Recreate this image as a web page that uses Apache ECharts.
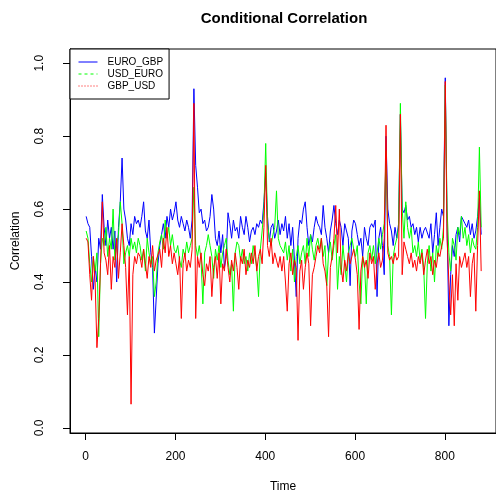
<!DOCTYPE html>
<html>
<head>
<meta charset="utf-8">
<script src="https://cdn.jsdelivr.net/npm/echarts@6/dist/echarts.min.js"></script>
<style>
  html, body { margin: 0; padding: 0; background: #fff; }
  #main { width: 496px; height: 498px; }
</style>
</head>
<body>
<div id="main"></div>
<script>
// one reading every 4 time steps, starting at t = 1
const step = 4;

const euroGbp = [
  0.58, 0.56, 0.55, 0.47, 0.38, 0.44, 0.40, 0.52, 0.49, 0.64,
  0.55, 0.50, 0.57, 0.52, 0.55, 0.49, 0.54, 0.40, 0.55, 0.62,
  0.74, 0.60, 0.57, 0.52, 0.50, 0.56, 0.53, 0.58, 0.56, 0.57,
  0.55, 0.58, 0.62, 0.54, 0.52, 0.57, 0.48, 0.44, 0.26, 0.26,
  0.45, 0.50, 0.53, 0.56, 0.52, 0.58, 0.55, 0.60, 0.57, 0.59,
  0.62, 0.57, 0.55, 0.58, 0.56, 0.54, 0.57, 0.55, 0.52, 0.57,
  0.93, 0.72, 0.66, 0.59, 0.60, 0.56, 0.57, 0.54, 0.55, 0.58,
  0.64, 0.60, 0.52, 0.50, 0.54, 0.48, 0.53, 0.44, 0.47, 0.59,
  0.56, 0.52, 0.57, 0.54, 0.55, 0.52, 0.58, 0.55, 0.53, 0.58,
  0.55, 0.51, 0.54, 0.55, 0.53, 0.56, 0.55, 0.57, 0.56, 0.62,
  0.70, 0.58, 0.51, 0.55, 0.56, 0.52, 0.54, 0.57, 0.53, 0.56,
  0.54, 0.58, 0.52, 0.56, 0.50, 0.55, 0.46, 0.36, 0.52, 0.57,
  0.56, 0.60, 0.62, 0.55, 0.50, 0.53, 0.51, 0.55, 0.58, 0.56,
  0.55, 0.53, 0.61, 0.55, 0.52, 0.48, 0.54, 0.57, 0.61, 0.56,
  0.53, 0.57, 0.55, 0.50, 0.56, 0.54, 0.52, 0.39, 0.54, 0.57,
  0.56, 0.53, 0.50, 0.52, 0.47, 0.55, 0.52, 0.50, 0.55, 0.56,
  0.55, 0.57, 0.36, 0.52, 0.55, 0.50, 0.42, 0.80, 0.60, 0.56,
  0.54, 0.50, 0.55, 0.52, 0.56, 0.86, 0.60, 0.59, 0.61, 0.57,
  0.58, 0.55, 0.56, 0.53, 0.55, 0.51, 0.55, 0.52, 0.54, 0.55,
  0.55, 0.52, 0.56, 0.48, 0.53, 0.59, 0.50, 0.55, 0.60, 0.58,
  0.96, 0.56, 0.28, 0.42, 0.50, 0.47, 0.53, 0.55, 0.51, 0.58,
  0.58, 0.56, 0.55, 0.57, 0.53, 0.56, 0.52, 0.54, 0.58, 0.63, 0.53
];

const usdEuro = [
  0.54, 0.52, 0.45, 0.40, 0.47, 0.43, 0.48, 0.25, 0.45, 0.52,
  0.50, 0.55, 0.47, 0.52, 0.49, 0.60, 0.46, 0.50, 0.53, 0.62,
  0.56, 0.45, 0.48, 0.50, 0.47, 0.52, 0.49, 0.51, 0.48, 0.52,
  0.50, 0.46, 0.49, 0.43, 0.52, 0.48, 0.45, 0.47, 0.36, 0.40,
  0.48, 0.51, 0.53, 0.49, 0.57, 0.52, 0.55, 0.50, 0.53, 0.49,
  0.48, 0.50, 0.46, 0.44, 0.49, 0.47, 0.51, 0.48, 0.50, 0.52,
  0.66, 0.50, 0.47, 0.50, 0.46, 0.34, 0.48, 0.50, 0.53, 0.50,
  0.47, 0.41, 0.49, 0.46, 0.50, 0.44, 0.48, 0.50, 0.52, 0.46,
  0.42, 0.45, 0.32, 0.48, 0.51, 0.50, 0.46, 0.49, 0.45, 0.47,
  0.43, 0.48, 0.45, 0.50, 0.47, 0.44, 0.36, 0.49, 0.54, 0.60,
  0.78, 0.56, 0.52, 0.50, 0.53, 0.55, 0.65, 0.52, 0.50, 0.49,
  0.48, 0.51, 0.46, 0.50, 0.43, 0.49, 0.40, 0.47, 0.50, 0.45,
  0.48, 0.50, 0.45, 0.52, 0.47, 0.53, 0.49, 0.46, 0.50, 0.52,
  0.49, 0.52, 0.47, 0.50, 0.39, 0.48, 0.51, 0.46, 0.50, 0.53,
  0.38, 0.47, 0.42, 0.50, 0.45, 0.40, 0.48, 0.50, 0.52, 0.49,
  0.47, 0.50, 0.40, 0.34, 0.47, 0.45, 0.34, 0.48, 0.50, 0.46,
  0.50, 0.45, 0.48, 0.52, 0.49, 0.53, 0.56, 0.76, 0.50, 0.47,
  0.31, 0.47, 0.50, 0.52, 0.55, 0.89, 0.60, 0.52, 0.62, 0.55,
  0.52, 0.55, 0.48, 0.50, 0.47, 0.51, 0.46, 0.49, 0.44, 0.30,
  0.45, 0.50, 0.43, 0.48, 0.40, 0.50, 0.47, 0.52, 0.49, 0.55,
  0.94, 0.60, 0.48, 0.43, 0.52, 0.50, 0.46, 0.55, 0.53, 0.58,
  0.52, 0.55, 0.50, 0.53, 0.48, 0.52, 0.50, 0.49, 0.55, 0.77, 0.55
];

const gbpUsd = [
  0.52, 0.51, 0.42, 0.35, 0.47, 0.40, 0.22, 0.30, 0.45, 0.62,
  0.48, 0.46, 0.42, 0.50, 0.38, 0.47, 0.44, 0.52, 0.41, 0.48,
  0.56, 0.50, 0.44, 0.31, 0.47, 0.065, 0.42, 0.47, 0.45, 0.48,
  0.47, 0.44, 0.49, 0.45, 0.41, 0.47, 0.44, 0.50, 0.43, 0.46,
  0.46, 0.49, 0.44, 0.52, 0.48, 0.55, 0.47, 0.50, 0.45, 0.48,
  0.45, 0.42, 0.47, 0.30, 0.45, 0.48, 0.43, 0.46, 0.44, 0.49,
  0.89, 0.30, 0.47, 0.44, 0.48, 0.42, 0.39, 0.45, 0.43, 0.47,
  0.36, 0.44, 0.47, 0.41, 0.48, 0.34, 0.45, 0.43, 0.49, 0.44,
  0.40, 0.46, 0.43, 0.48, 0.44, 0.38, 0.47, 0.45, 0.49, 0.42,
  0.46, 0.44, 0.48, 0.45, 0.50, 0.43, 0.47, 0.49, 0.45, 0.55,
  0.72, 0.50, 0.47, 0.52, 0.45, 0.48, 0.46, 0.44, 0.47, 0.43,
  0.47, 0.40, 0.32, 0.45, 0.48, 0.42, 0.46, 0.44, 0.24, 0.43,
  0.46, 0.38, 0.44, 0.48, 0.45, 0.28, 0.42, 0.44, 0.47, 0.50,
  0.48, 0.52, 0.45, 0.43, 0.39, 0.25, 0.44, 0.47, 0.52, 0.61,
  0.48, 0.60, 0.44, 0.40, 0.46, 0.43, 0.48, 0.45, 0.47, 0.49,
  0.46, 0.42, 0.27, 0.43, 0.47, 0.44, 0.46, 0.41, 0.48, 0.45,
  0.47, 0.38, 0.45, 0.48, 0.44, 0.46, 0.52, 0.83, 0.48, 0.46,
  0.47, 0.45, 0.48, 0.46, 0.47, 0.86, 0.42, 0.51, 0.49, 0.47,
  0.45, 0.48, 0.44, 0.46, 0.43, 0.47, 0.45, 0.48, 0.42, 0.46,
  0.49, 0.45, 0.47, 0.42, 0.46, 0.44, 0.48, 0.47, 0.50, 0.52,
  0.95, 0.52, 0.40, 0.31, 0.42, 0.28, 0.45, 0.35, 0.47, 0.44,
  0.46, 0.48, 0.44, 0.47, 0.36, 0.45, 0.48, 0.32, 0.50, 0.65, 0.43
];

const xTicks = [0, 200, 400, 600, 800];
const yTicks = [0, 0.2, 0.4, 0.6, 0.8, 1.0];

const font = "'Liberation Sans', Arial, sans-serif";

// pair each value with its time index
const toPoints = (vals) => vals.map((v, i) => [1 + i * step, v]);

const chart = echarts.init(document.getElementById("main"));

// legend keys: plain lines, no marker
const legendKey = (color, type) => ({
  itemStyle: { opacity: 0 },
  lineStyle: { color: color, width: 1, type: type },
});

const option = {
  animation: false,
  backgroundColor: "#fff",
  textStyle: { fontFamily: font },
  title: {
    text: "Conditional Correlation",
    left: 284,
    top: 11,
    padding: 0,
    textAlign: "center",
    textStyle: { fontFamily: font, fontSize: 15, fontWeight: "bold", color: "#000" },
  },
  legend: {
    orient: "vertical",
    left: 70,
    top: 49,
    padding: [8, 6, 8, 8],
    itemGap: 2,
    itemWidth: 19,
    itemHeight: 10,
    borderColor: "#000",
    borderWidth: 1,
    backgroundColor: "#fff",
    textStyle: { fontFamily: font, fontSize: 10, color: "#000", padding: [0, 0, 0, 5] },
    data: [
      Object.assign({ name: "EURO_GBP" }, legendKey("#0000ff", "solid")),
      Object.assign({ name: "USD_EURO" }, legendKey("#00ff00", [3, 3])),
      Object.assign({ name: "GBP_USD" }, legendKey("#ff0000", [1, 2])),
    ],
  },
  grid: {
    left: 70,
    top: 49,
    width: 429,
    height: 386,
    show: true,
    borderColor: "#000",
    borderWidth: 1,
    backgroundColor: "transparent",
  },
  xAxis: {
    type: "value",
    min: -35,
    max: 914,
    name: "Time",
    nameLocation: "middle",
    nameGap: 48,
    nameTextStyle: { fontFamily: font, fontSize: 12, color: "#000" },
    axisLine: { show: true, onZero: false, lineStyle: { color: "#000" } },
    axisTick: { show: true, length: 7, customValues: xTicks, lineStyle: { color: "#000" } },
    axisLabel: { customValues: xTicks, margin: 18, fontFamily: font, fontSize: 12, color: "#000" },
    splitLine: { show: false },
  },
  yAxis: {
    type: "value",
    min: -0.014,
    max: 1.039,
    name: "Correlation",
    nameLocation: "middle",
    nameGap: 48,
    nameTextStyle: { fontFamily: font, fontSize: 12, color: "#000" },
    axisLine: { show: true, onZero: false, lineStyle: { color: "#000" } },
    axisTick: { show: true, length: 7, customValues: yTicks, lineStyle: { color: "#000" } },
    axisLabel: {
      customValues: yTicks,
      rotate: 90,
      margin: 24,
      fontFamily: font,
      fontSize: 12,
      color: "#000",
      formatter: (v) => v.toFixed(1),
    },
    splitLine: { show: false },
  },
  series: [
    {
      name: "EURO_GBP",
      type: "line",
      data: toPoints(euroGbp),
      symbol: "none",
      lineStyle: { color: "#0000ff", width: 1 },
      itemStyle: { color: "#0000ff" },
    },
    {
      name: "USD_EURO",
      type: "line",
      data: toPoints(usdEuro),
      symbol: "none",
      lineStyle: { color: "#00ff00", width: 1 },
      itemStyle: { color: "#00ff00" },
    },
    {
      name: "GBP_USD",
      type: "line",
      data: toPoints(gbpUsd),
      symbol: "none",
      lineStyle: { color: "#ff0000", width: 1 },
      itemStyle: { color: "#ff0000" },
    },
  ],
};

chart.setOption(option);
</script>
</body>
</html>
